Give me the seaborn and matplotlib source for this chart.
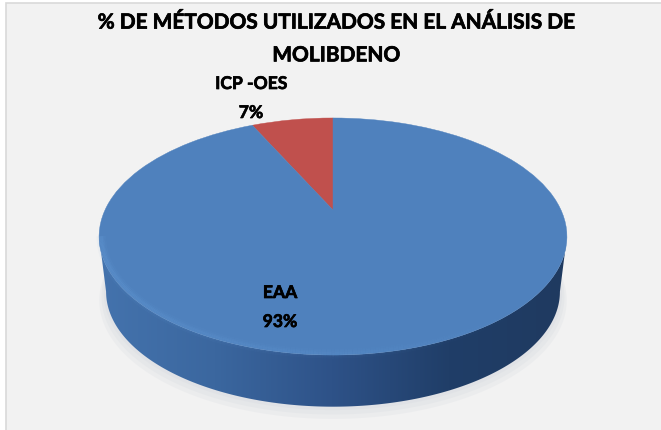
import matplotlib
matplotlib.use("Agg")
import matplotlib.patheffects as pe
import matplotlib.pyplot as plt
from matplotlib.collections import LineCollection
from matplotlib.colors import LinearSegmentedColormap
from matplotlib.patches import PathPatch, Polygon, Rectangle
from matplotlib.path import Path
import numpy as np
import seaborn as sns

title = "% DE MÉTODOS UTILIZADOS EN EL ANÁLISIS DE\nMOLIBDENO"
categories = ["ICP -OES", "EAA"]
values = [7, 93]
slice_colors = ["#c0504d", "#4f81bd"]
side_colors = ["#4473ad", "#3b679f", "#2e5288", "#203e68", "#1f3a60"]

sns.set_theme(style="white")
plt.rcParams["font.family"] = ["Lato", "DejaVu Sans"]

# perspective of the tilted disc, in pixels of the figure
CX, APEX_Y = 333, 210
K, M, C = 228, 112.6, 0.2236
DEPTH, SHRINK = 56, 0.97


def project(x, y, scale=1.0, drop=0.0, y0=APEX_Y):
    w = 1 + C * y
    return CX + K * scale * x / w, y0 + drop - M * scale * y / w


def rim(theta, scale=1.0, drop=0.0):
    return np.column_stack(project(np.cos(theta), np.sin(theta), scale, drop))


fig, ax = plt.subplots(figsize=(6.61, 4.30), dpi=100)
fig.patch.set_facecolor("white")
ax.set_position([0, 0, 1, 1])

# pie in unit coordinates, its wedges get warped below
wedges, _ = ax.pie(values, colors=slice_colors, startangle=90,
                   wedgeprops={"linewidth": 0})
top_paths = []
for wedge, color in zip(wedges, slice_colors):
    path = wedge.get_path()
    px, py = project(path.vertices[:, 0], path.vertices[:, 1])
    top_paths.append((Path(np.column_stack([px, py]), path.codes), color))
    wedge.remove()

ax.set_aspect("auto")
ax.set_xlim(0, 661)
ax.set_ylim(430, 0)
ax.axis("off")

ax.add_patch(Rectangle((5.5, 2.5), 670, 440, facecolor="#f2f2f2",
                       edgecolor="#d9d9d9", linewidth=1.2, zorder=0))

# soft shadow under the disc
circle = np.linspace(0, 2 * np.pi, 300)
for grow, extra in zip([1.03, 1.02, 1.01, 1.0], [11, 8, 5, 3]):
    ax.add_patch(Polygon(rim(circle, SHRINK * grow, DEPTH + extra - 3),
                         facecolor="#c9ced8", alpha=0.16, linewidth=0, zorder=1))

# side wall with a left to right shading
a = np.arcsin(C)
arc = np.linspace(np.pi + a, 2 * np.pi - a, 300)
side = Polygon(np.vstack([rim(arc), rim(arc, SHRINK, DEPTH)[::-1]]),
               transform=ax.transData, facecolor="none", linewidth=0)
ax.add_patch(side)
cmap = LinearSegmentedColormap.from_list("side", side_colors)
img = ax.imshow(np.linspace(0, 1, 256).reshape(1, -1), cmap=cmap, aspect="auto",
                extent=(98, 566, 430, 0), zorder=2)
img.set_clip_path(side)
ax.set_xlim(0, 661)
ax.set_ylim(430, 0)

# top face
for path, color in top_paths:
    ax.add_patch(PathPatch(path, facecolor=color, edgecolor=color,
                           linewidth=0.3, zorder=3))

# bevel highlight along the front edge, fading to the right
pts = rim(arc, 0.99, 0)
segs = np.stack([pts[:-1], pts[1:]], axis=1)
fade = np.clip(1.1 - np.linspace(0, 1, len(segs)) * 1.25, 0, 1)
for width, strength in [(7, 0.06), (4.5, 0.09), (2.5, 0.12)]:
    rgba = np.zeros((len(segs), 4))
    rgba[:, :3] = matplotlib.colors.to_rgb("#74ade9")
    rgba[:, 3] = fade * strength
    ax.add_collection(LineCollection(segs, colors=rgba, linewidths=width, zorder=4))

heavy = [pe.withStroke(linewidth=0.5, foreground="black")]
ax.text(336, 39, title, ha="center", va="center", fontsize=15, fontweight="bold",
        color="black", linespacing=1.8, zorder=6, path_effects=heavy)

label_pos = [(251, 84, 113), (280, 293, 322)]
for name, val, (lx, ly1, ly2) in zip(categories, values, label_pos):
    ax.text(lx, ly1, name, ha="center", va="center", fontsize=12.6,
            fontweight="bold", color="black", zorder=6, path_effects=heavy)
    ax.text(lx, ly2, f"{val}%", ha="center", va="center", fontsize=12.6,
            fontweight="bold", color="black", zorder=6, path_effects=heavy)

fig.savefig("out.png", dpi=100)
